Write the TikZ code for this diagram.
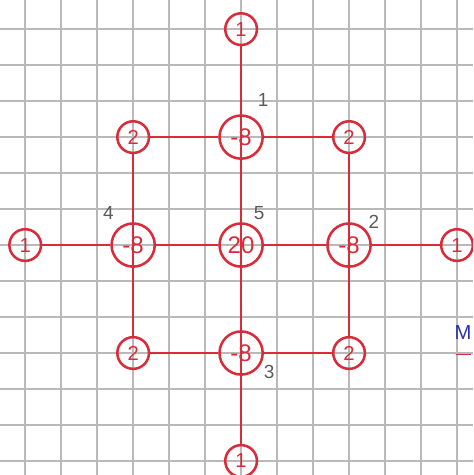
\documentclass[tikz,border=0pt]{standalone}
\usepackage{fontspec}
\setmainfont{Liberation Sans}
\usepackage{xcolor}
\usetikzlibrary{positioning}
\definecolor{penred}{HTML}{D92B3A}
\definecolor{penblue}{HTML}{2A2FB0}
\definecolor{pencil}{HTML}{5A5A5A}

\begin{document}
\begin{tikzpicture}[
  gridline/.style={gray!55, line width=1.1pt},
  bigval/.style={circle, draw=penred, line width=2pt, minimum size=1.2cm, inner sep=0pt, text=penred, font=\fontsize{19}{19}\selectfont},
  smallval/.style={circle, draw=penred, line width=2pt, minimum size=0.88cm, inner sep=0pt, text=penred, font=\fontsize{16}{16}\selectfont},
  link/.style={penred, line width=1.5pt},
  tag/.style={text=pencil, font=\fontsize{15}{15}\selectfont}
]
\clip (-6.70,-6.39) rectangle (6.45,6.81);
\draw[gridline] (-6.70,-6.39) grid (6.45,6.81);

% weights
\node[bigval] (c) at (0,0) {20};
\node[bigval] (tm) at (0,3) {-8};
\node[bigval] (bm) at (0,-3) {-8};
\node[bigval] (lm) at (-3,0) {-8};
\node[bigval] (rm) at (3,0) {-8};
\node[smallval] (tl) at (-3,3) {2};
\node[smallval] (tr) at (3,3) {2};
\node[smallval] (bl) at (-3,-3) {2};
\node[smallval] (br) at (3,-3) {2};
\node[smallval] (t1) at (0,6) {1};
\node[smallval] (b1) at (0,-6) {1};
\node[smallval] (l1) at (-6,0) {1};
\node[smallval] (r1) at (6,0) {1};

% connectors
\draw[link] (t1) -- (b1);
\draw[link] (tl) -- (bl);
\draw[link] (tr) -- (br);
\draw[link] (l1) -- (lm);
\draw[link] (lm) -- (c);
\draw[link] (c) -- (rm);
\draw[link] (rm) -- (r1);
\draw[link] (tl) -- (tm);
\draw[link] (tm) -- (tr);
\draw[link] (bl) -- (bm);
\draw[link] (bm) -- (br);

% order numbers
\node[tag] (n1) at (0.61,4.03) {1};
\node[tag] (n2) at (3.69,0.64) {2};
\node[tag] (n3) at (0.78,-3.53) {3};
\node[tag] (n4) at (-3.69,0.89) {4};
\node[tag] (n5) at (0.50,0.89) {5};

\node[text=penblue, font=\fontsize{16}{16}\selectfont, inner sep=0pt] (m) at (6.17,-2.44) {M};
\draw[penred, line width=1pt] (5.98,-3.05) -- (6.38,-3.05);
\end{tikzpicture}
\end{document}
